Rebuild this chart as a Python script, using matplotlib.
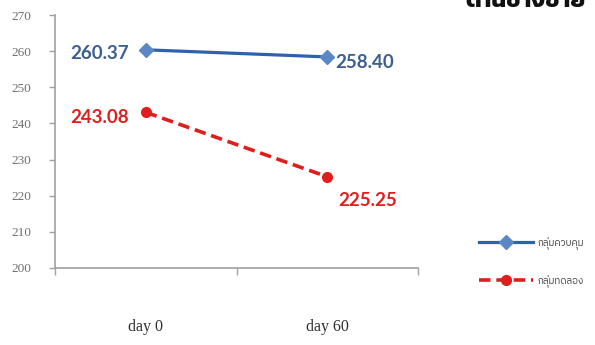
import matplotlib
matplotlib.use("Agg")
import matplotlib.pyplot as plt

# datos
dias = ["day 0", "day 60"]
control = [260.37, 258.40]
experimental = [243.08, 225.25]
etiqueta_control = "กลุ่มควบคุม"
etiqueta_experimental = "กลุ่มทดลอง"
titulo = "ด้านข้างซ้าย"
yticks = [200, 210, 220, 230, 240, 250, 260, 270]

fig = plt.figure(figsize=(5.95, 3.45), dpi=100)
ax = fig.add_axes([55 / 595, 1 - 268 / 345, (418 - 55) / 595, 253 / 345])

x = list(range(len(dias)))
l1, = ax.plot(x, control, color="#2f62ad", lw=2.3, marker="D", ms=7,
              mfc="#5b87c5", mec="#5b87c5")
l2, = ax.plot(x, experimental, color="#e01e1e", lw=2.6, ls=(0, (3.2, 1.6)), marker="o", ms=7,
              mfc="#e01e1e", mec="#e01e1e")

# etiquetas de datos
lab = dict(fontsize=13.5, fontweight="bold", family="Lato")
ax.annotate(f"{control[0]:.2f}", (x[0], control[0]), xytext=(-12, -3), textcoords="offset points",
            ha="right", va="center", color="#3b5f8f", **lab)
ax.annotate(f"{control[1]:.2f}", (x[1], control[1]), xytext=(6, -4), textcoords="offset points",
            ha="left", va="center", color="#3b5f8f", **lab)
ax.annotate(f"{experimental[0]:.2f}", (x[0], experimental[0]), xytext=(-12, -4), textcoords="offset points",
            ha="right", va="center", color="#e01e1e", **lab)
ax.annotate(f"{experimental[1]:.2f}", (x[1], experimental[1]), xytext=(8, -17), textcoords="offset points",
            ha="left", va="center", color="#e01e1e", **lab)

ax.set_xlim(-0.5, 1.5)
ax.set_ylim(200, 270)
ax.set_yticks(yticks)
ax.set_xticks([-0.5, 0.5, 1.5])
ax.set_xticklabels([])
ax.set_xticks(x, minor=True)
ax.set_xticklabels(dias, minor=True, family="Liberation Serif", fontsize=11.5, color="#303030")
ax.tick_params(axis="x", which="minor", length=0, pad=37)
ax.tick_params(axis="x", which="major", length=5, width=1, color="#a0a0a0")
ax.tick_params(axis="y", length=4, width=1, color="#a0a0a0", labelsize=9.5, labelcolor="#707070", pad=13)
for t in ax.get_yticklabels():
    t.set_family("Liberation Serif")
for s in ["top", "right"]:
    ax.spines[s].set_visible(False)
for s in ["left", "bottom"]:
    ax.spines[s].set_color("#a0a0a0")
    ax.spines[s].set_linewidth(1.2)

fig.legend([l1, l2], [etiqueta_control, etiqueta_experimental], loc="upper left",
           bbox_to_anchor=(470 / 595, 1 - 228 / 345), frameon=False,
           prop={"family": ["IBM Plex Sans Thai", "DejaVu Sans"], "size": 7},
           handlelength=5.6, handletextpad=0.5, labelspacing=2.6, labelcolor="#404040")

# titulo recortado en la esquina superior derecha, como en la imagen original
fig.text(465 / 595, 1 - 7 / 345, titulo, ha="left", va="baseline", fontsize=17,
         fontweight="bold", family=["Kanit", "DejaVu Sans"], color="#111111")

fig.savefig("out.png")
